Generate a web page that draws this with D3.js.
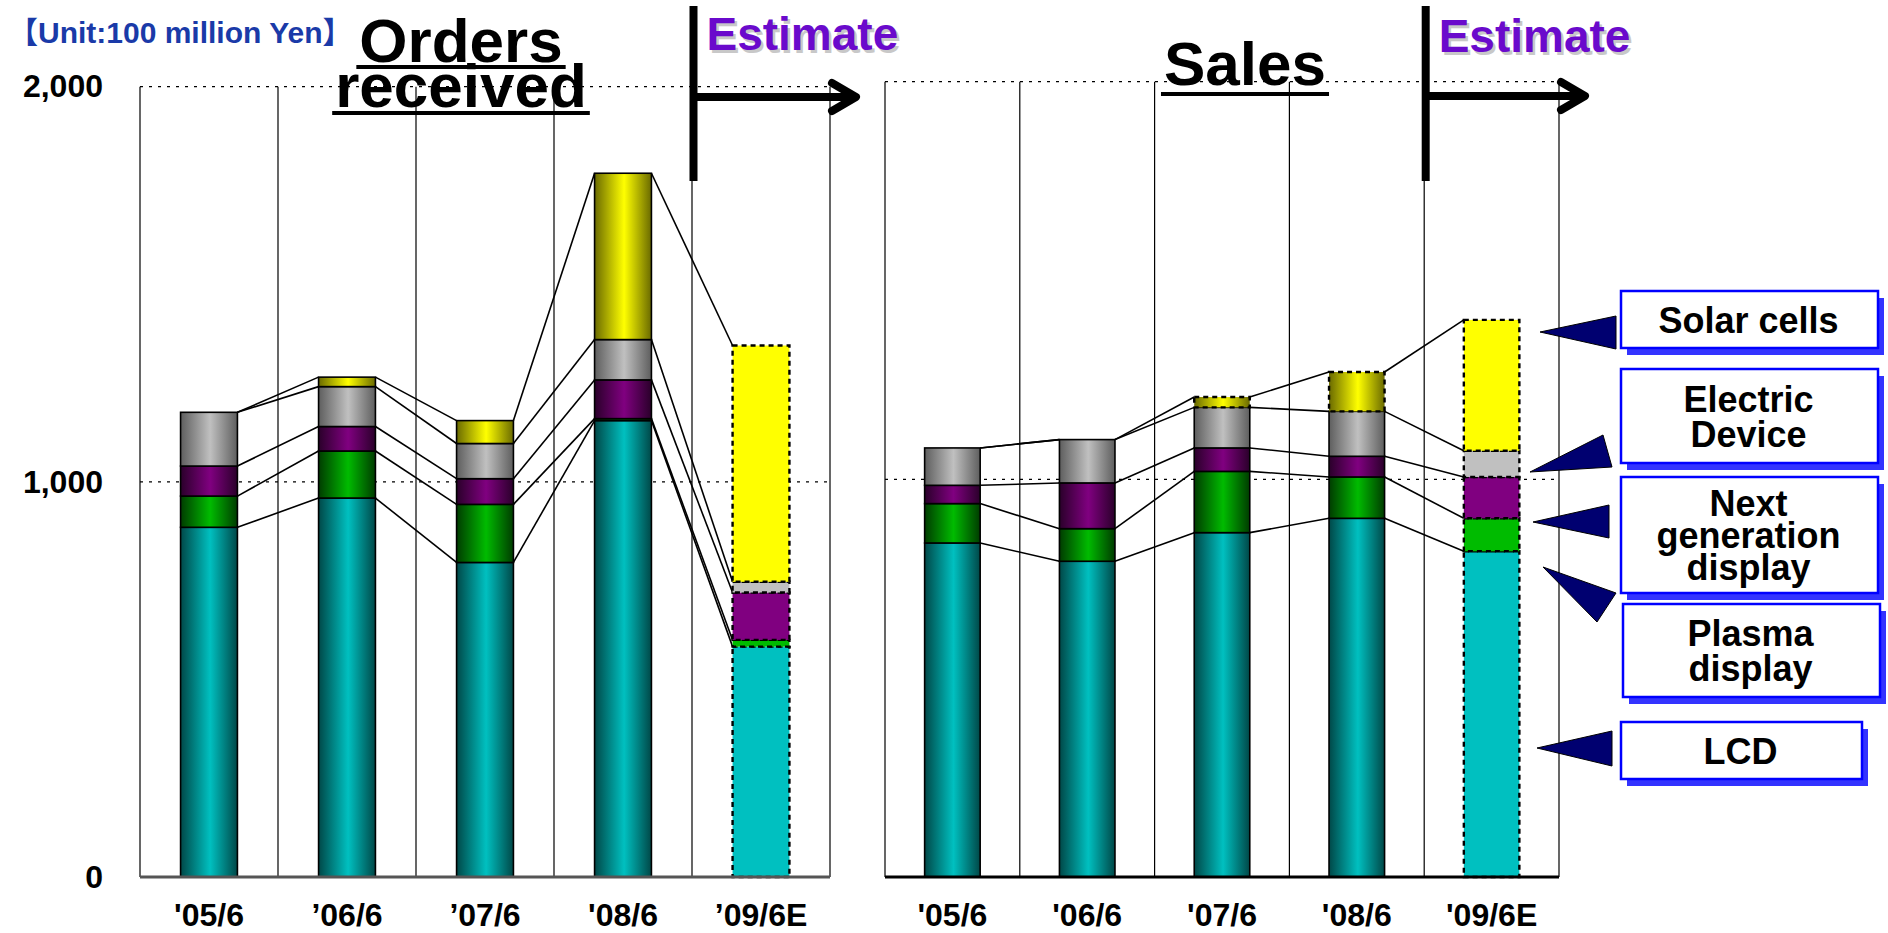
<!DOCTYPE html>
<html><head><meta charset="utf-8">
<script src="https://cdn.jsdelivr.net/npm/d3@7"></script>
<style>
body{margin:0;background:#fff;}
svg{display:block;}
text{font-family:Arial,"Liberation Sans",sans-serif;font-weight:bold;}
</style>
</head><body><svg id="c" width="1888" height="933"></svg>
<script>
// ---------------- DATA ----------------
const categoriesOrders = ["'05/6", "’06/6", "’07/6", "'08/6", "’09/6E"];
const categoriesSales  = ["'05/6", "'06/6", "'07/6", "'08/6", "'09/6E"];
const seriesKeys = ["LCD", "Plasma display", "Next generation display", "Electric Device", "Solar cells"];

const ordersLCD      = [885, 959, 796, 1155, 583];
const ordersPlasma   = [79, 119, 147, 5, 17];
const ordersNextGen  = [76, 62, 65, 98, 120];
const ordersElectric = [136, 101, 89, 102, 27];
const ordersSolar    = [0, 24, 58, 421, 598];

const salesLCD      = [840, 794, 866, 902, 819];
const salesPlasma   = [99, 82, 154, 104, 83];
const salesNextGen  = [46, 115, 59, 52, 104];
const salesElectric = [94, 109, 102, 113, 66];
const salesSolar    = [0, 0, 26, 99, 329];

const yTickValues = [0, 1000, 2000];
const estimateIndex = 4;
const legendLabels = [["Solar cells"], ["Electric", "Device"], ["Next", "generation", "display"], ["Plasma", "display"], ["LCD"]];

// ---------------- STYLE ----------------
const baseColors = ["#00C0C0", "#00BB00", "#800080", "#C0C0C0", "#FFFF00"];
const edgeColors = ["#004848", "#003c00", "#2a002a", "#5e5e5e", "#6a6a00"];

const svg = d3.select("#c");
const defs = svg.append("defs");
seriesKeys.forEach((k, i) => {
  const g = defs.append("linearGradient").attr("id", "g" + i)
    .attr("x1", 0).attr("x2", 1).attr("y1", 0).attr("y2", 0);
  g.append("stop").attr("offset", "0%").attr("stop-color", edgeColors[i]);
  g.append("stop").attr("offset", "52%").attr("stop-color", baseColors[i]);
  g.append("stop").attr("offset", "100%").attr("stop-color", edgeColors[i]);
});

function buildTable(cats, arrs) {
  return cats.map((c, i) => {
    const row = {cat: c};
    seriesKeys.forEach((k, j) => row[k] = arrs[j][i]);
    return row;
  });
}

const panels = [
  {name: "orders", cats: categoriesOrders,
   table: buildTable(categoriesOrders, [ordersLCD, ordersPlasma, ordersNextGen, ordersElectric, ordersSolar]),
   x0: 140, x1: 830, yBottom: 877, yTop: 86.7, showY: true, baseColor: "#555"},
  {name: "sales", cats: categoriesSales,
   table: buildTable(categoriesSales, [salesLCD, salesPlasma, salesNextGen, salesElectric, salesSolar]),
   x0: 885, x1: 1559, yBottom: 877, yTop: 81.7, showY: false, baseColor: "#000"}
];

panels.forEach(p => {
  const g = svg.append("g");
  const x = d3.scaleBand().domain(p.cats).range([p.x0, p.x1]).padding(0);
  const y = d3.scaleLinear().domain([0, 2000]).range([p.yBottom, p.yTop]);
  const bw = x.bandwidth() * 0.412;
  const off = (x.bandwidth() - bw) / 2;

  // vertical grid lines
  const vx = p.cats.map(c => x(c)).concat([p.x1]);
  g.selectAll("line.v").data(vx).join("line")
    .attr("x1", d => d).attr("x2", d => d)
    .attr("y1", y(2000)).attr("y2", y(0))
    .attr("stroke", "#000").attr("stroke-width", 1.2);

  // dotted horizontal grid
  g.selectAll("line.h").data([1000, 2000]).join("line")
    .attr("x1", p.x0).attr("x2", p.x1)
    .attr("y1", d => y(d)).attr("y2", d => y(d))
    .attr("stroke", "#000").attr("stroke-width", 1.3)
    .attr("stroke-dasharray", "3,6");

  const stacked = d3.stack().keys(seriesKeys)(p.table);

  // connecting lines
  stacked.forEach(layer => {
    for (let i = 0; i < layer.length - 1; i++) {
      const a = layer[i], b = layer[i + 1];
      g.append("line")
        .attr("x1", x(p.cats[i]) + off + bw).attr("y1", y(a[1]))
        .attr("x2", x(p.cats[i + 1]) + off).attr("y2", y(b[1]))
        .attr("stroke", "#000").attr("stroke-width", 1.6);
    }
  });

  // bars
  stacked.forEach((layer, si) => {
    layer.forEach((d, i) => {
      if (d[1] - d[0] <= 0) return;
      const est = i === estimateIndex;
      const dashed = est || (p.name === "sales" && layer.key === "Solar cells");
      g.append("rect")
        .attr("x", x(p.cats[i]) + off).attr("width", bw)
        .attr("y", y(d[1])).attr("height", y(d[0]) - y(d[1]))
        .attr("fill", est ? baseColors[si] : "url(#g" + si + ")")
        .attr("stroke", "#000")
        .attr("stroke-width", dashed ? 2.4 : 1.6)
        .attr("stroke-dasharray", dashed ? "5,4" : null);
    });
  });

  // baseline
  g.append("line").attr("x1", p.x0).attr("x2", p.x1)
    .attr("y1", y(0)).attr("y2", y(0))
    .attr("stroke", p.baseColor).attr("stroke-width", 3);

  // x axis
  const xa = g.append("g").attr("transform", `translate(0,${y(0)})`)
    .call(d3.axisBottom(x).tickSize(0).tickPadding(26));
  xa.select(".domain").remove();
  xa.selectAll("text").attr("font-size", 32).attr("fill", "#000")
    .attr("font-family", "Arial,'Liberation Sans',sans-serif").attr("font-weight", "bold");

  if (p.showY) {
    const ya = g.append("g").attr("transform", `translate(${p.x0},0)`)
      .call(d3.axisLeft(y).tickValues(yTickValues).tickFormat(d3.format(",")).tickSize(0).tickPadding(37));
    ya.select(".domain").remove();
    ya.selectAll("text").attr("font-size", 32).attr("fill", "#000")
      .attr("font-family", "Arial,'Liberation Sans',sans-serif").attr("font-weight", "bold");
  }

  // Estimate marker
  const ex = x(p.cats[estimateIndex]) + 1.5;
  const ay = p.name === "orders" ? 97 : 96;
  const tip = p.name === "orders" ? 856 : 1585;
  g.append("line").attr("x1", ex).attr("x2", ex).attr("y1", 6).attr("y2", 181)
    .attr("stroke", "#000").attr("stroke-width", 8);
  g.append("line").attr("x1", ex).attr("x2", tip - 4).attr("y1", ay).attr("y2", ay)
    .attr("stroke", "#000").attr("stroke-width", 8);
  g.append("polyline")
    .attr("points", `${tip - 24},${ay - 14} ${tip},${ay} ${tip - 24},${ay + 14}`)
    .attr("fill", "none").attr("stroke", "#000").attr("stroke-width", 8)
    .attr("stroke-linejoin", "round").attr("stroke-linecap", "round");
  const etx = ex + 13, ety = p.name === "orders" ? 50 : 52;
  g.append("text").attr("x", etx + 2.5).attr("y", ety + 2.5).attr("font-size", 46)
    .attr("fill", "#c8c8c8").text("Estimate");
  g.append("text").attr("x", etx).attr("y", ety).attr("font-size", 46)
    .attr("fill", "#6a0acc").text("Estimate");
});

// Titles
function underlined(txt, cx, baseline, uy, size) {
  const t = svg.append("text").attr("x", cx).attr("y", baseline).attr("text-anchor", "middle")
    .attr("font-size", size).attr("fill", "#000").text(txt);
  const w = t.node().getComputedTextLength();
  svg.append("line").attr("x1", cx - w / 2 - 3).attr("x2", cx + w / 2 + 3)
    .attr("y1", uy).attr("y2", uy).attr("stroke", "#000").attr("stroke-width", 4);
}
underlined("Orders", 461, 62, 67, 62);
underlined("received", 461, 107, 113, 62);
underlined("Sales", 1245, 85, 94, 62);

// Unit label
svg.append("text").attr("x", 8).attr("y", 43).attr("font-size", 30).attr("fill", "#1a3aa8")
  .style("font-family", "Arial,'Liberation Sans','Noto Sans CJK JP',sans-serif")
  .text("【Unit:100 million Yen】");

// Legend callouts
const legendBoxes = [
  {x: 1621, y: 291, w: 257, h: 57, tri: [[1540, 332], [1616, 316], [1616, 349]]},
  {x: 1621, y: 369, w: 257, h: 94, tri: [[1530, 472], [1603, 435], [1612, 467]]},
  {x: 1621, y: 477, w: 257, h: 116, tri: [[1533, 522], [1609, 505], [1609, 538]]},
  {x: 1623, y: 604, w: 257, h: 93, tri: [[1543, 567], [1616, 593], [1597, 622]]},
  {x: 1621, y: 722, w: 241, h: 57, tri: [[1537, 748], [1612, 731], [1612, 766]]}
];
const lg = svg.append("g");
legendBoxes.forEach((b, i) => {
  lg.append("rect").attr("x", b.x + 6).attr("y", b.y + 7).attr("width", b.w).attr("height", b.h)
    .attr("fill", "#3333ff");
  lg.append("rect").attr("x", b.x).attr("y", b.y).attr("width", b.w).attr("height", b.h)
    .attr("fill", "#fff").attr("stroke", "#0000ff").attr("stroke-width", 2.5);
  lg.append("polygon").attr("points", b.tri.map(p => p.join(",")).join(" "))
    .attr("fill", "#000070").attr("stroke", "#000").attr("stroke-width", 1);
  const lines = legendLabels[i];
  const lh = lines.length === 3 ? 32 : 35;
  const cy = b.y + b.h / 2;
  lines.forEach((ln, k) => {
    lg.append("text").attr("x", b.x + b.w / 2 - 1)
      .attr("y", cy + (k - (lines.length - 1) / 2) * lh + 13)
      .attr("text-anchor", "middle").attr("font-size", 36).attr("fill", "#000").text(ln);
  });
});
</script>
</body></html>
